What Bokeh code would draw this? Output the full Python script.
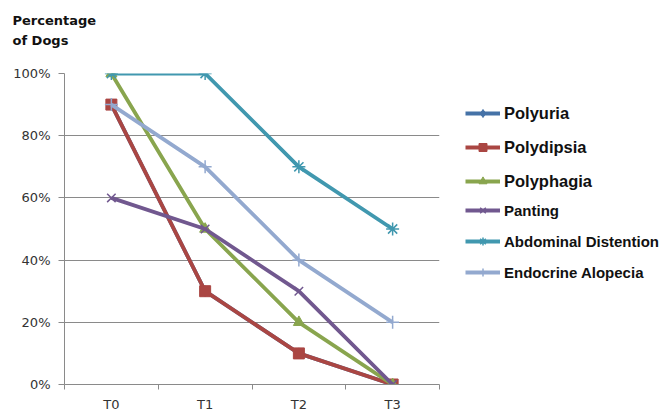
from bokeh.plotting import figure
from bokeh.layouts import row, column
from bokeh.models import (Range1d, FixedTicker, NumeralTickFormatter, Legend, LegendItem)
from bokeh.core.properties import value
from bokeh.embed import file_html
from bokeh.resources import INLINE

categories = ["T0", "T1", "T2", "T3"]
series_names = ["Polyuria", "Polydipsia", "Polyphagia", "Panting",
                "Abdominal Distention", "Endocrine Alopecia"]
polyuria = [0.9, 0.3, 0.1, 0.0]
polydipsia = [0.9, 0.3, 0.1, 0.0]
polyphagia = [1.0, 0.5, 0.2, 0.0]
panting = [0.6, 0.5, 0.3, 0.0]
abdominal = [1.0, 1.0, 0.7, 0.5]
endocrine = [0.9, 0.7, 0.4, 0.2]
y_ticks = [0, 0.2, 0.4, 0.6, 0.8, 1.0]
title_lines = ["Percentage", "of Dogs"]

series_values = [polyuria, polydipsia, polyphagia, panting, abdominal, endocrine]
colors = ["#4572A7", "#AA4643", "#89A54E", "#71588F", "#4198AF", "#93A9CF"]
markers = ["diamond", "square", "triangle", "x", "asterisk", "cross"]
msizes = [11, 11, 11, 12, 13, 13]
grey = "#8a8a8a"
LW = 3.8

TOTAL_W, TOTAL_H = 663, 414
TITLE_H = 52
MAIN_W = 442
LEG_W = TOTAL_W - MAIN_W
MAIN_H = TOTAL_H - TITLE_H

# ---- title strip ----
pt = figure(width=MAIN_W, height=TITLE_H, output_backend="svg", toolbar_location=None,
            x_range=Range1d(0, MAIN_W), y_range=Range1d(TITLE_H, 0),
            x_axis_type=None, y_axis_type=None, min_border=0)
pt.frame_align = False
pt.outline_line_color = None
pt.grid.visible = False
pt.text(x=[12, 12], y=[20, 40], text=title_lines, text_font=value("DejaVu Sans"),
        text_font_style="bold", text_font_size="13px", text_color="#111111",
        text_baseline="middle")

# ---- main chart ----
xs = list(range(len(categories)))
p = figure(width=MAIN_W, height=MAIN_H, output_backend="svg", toolbar_location=None,
           x_range=Range1d(-0.5, len(categories) - 0.5), y_range=Range1d(0, 1),
           min_border_left=64, min_border_right=3, min_border_top=73 - TITLE_H,
           min_border_bottom=30)
p.frame_align = False
p.outline_line_color = None

p.xaxis.ticker = FixedTicker(ticks=xs, minor_ticks=[x - 0.5 for x in xs] + [xs[-1] + 0.5])
p.xaxis.major_label_overrides = {i: c for i, c in enumerate(categories)}
p.xaxis.major_tick_out = 0
p.xaxis.major_tick_in = 0
p.xaxis.minor_tick_out = 5
p.xaxis.minor_tick_in = 0
p.xaxis.minor_tick_line_color = grey
p.xaxis.axis_line_color = grey
p.xaxis.major_label_standoff = 7
p.xaxis.major_label_text_font = "DejaVu Sans"
p.xaxis.major_label_text_font_size = "13px"
p.xaxis.major_label_text_color = "#333333"
p.xgrid.grid_line_color = None

p.yaxis.ticker = FixedTicker(ticks=y_ticks)
p.yaxis.formatter = NumeralTickFormatter(format="0%")
p.yaxis.major_tick_out = 6
p.yaxis.major_tick_in = 0
p.yaxis.minor_tick_line_color = None
p.yaxis.major_tick_line_color = grey
p.yaxis.axis_line_color = grey
p.yaxis.major_label_standoff = 8
p.yaxis.major_label_text_font = "DejaVu Sans"
p.yaxis.major_label_text_font_size = "13px"
p.yaxis.major_label_text_color = "#333333"
p.ygrid.grid_line_color = grey
p.ygrid.grid_line_width = 1

def add_series(fig, vals, col, mk, ms):
    lr = fig.line(xs, vals, line_color=col, line_width=LW)
    sr = fig.scatter(xs, vals, marker=mk, size=ms, fill_color=col, line_color=col,
                     line_width=1.5 if mk in ("x", "asterisk", "cross") else 1)
    return lr, sr

for vals, col, mk, ms in zip(series_values, colors, markers, msizes):
    add_series(p, vals, col, mk, ms)

# ---- legend panel (series drawn out of its view, used only for legend glyphs) ----
pl = figure(width=LEG_W, height=TOTAL_H, output_backend="svg", toolbar_location=None,
            x_range=Range1d(100, 100 + LEG_W), y_range=Range1d(100, 100 + TOTAL_H),
            x_axis_type=None, y_axis_type=None, min_border=0)
pl.frame_align = False
pl.outline_line_color = None
pl.grid.visible = False
items = []
for name, vals, col, mk, ms in zip(series_names, series_values, colors, markers, msizes):
    lr, sr = add_series(pl, vals, col, mk, ms)
    items.append(LegendItem(label=name, renderers=[lr, sr]))

common = dict(orientation="vertical", label_text_font="Liberation Sans",
              label_text_font_style="bold", label_text_color="#111111",
              glyph_width=35, glyph_height=20, label_height=20, label_standoff=4,
              padding=0, margin=0, border_line_color=None, background_fill_alpha=0)
legend1 = Legend(items=items[:3], location=(23, 223), spacing=14,
                 label_text_font_size="16.5px", **common)
legend2 = Legend(items=items[3:], location=(23, 132), spacing=11,
                 label_text_font_size="15px", **common)
pl.add_layout(legend1, "center")
pl.add_layout(legend2, "center")

layout = row(column(pt, p, spacing=0), pl, spacing=0)
open("out.html", "w").write(file_html(layout, INLINE))
